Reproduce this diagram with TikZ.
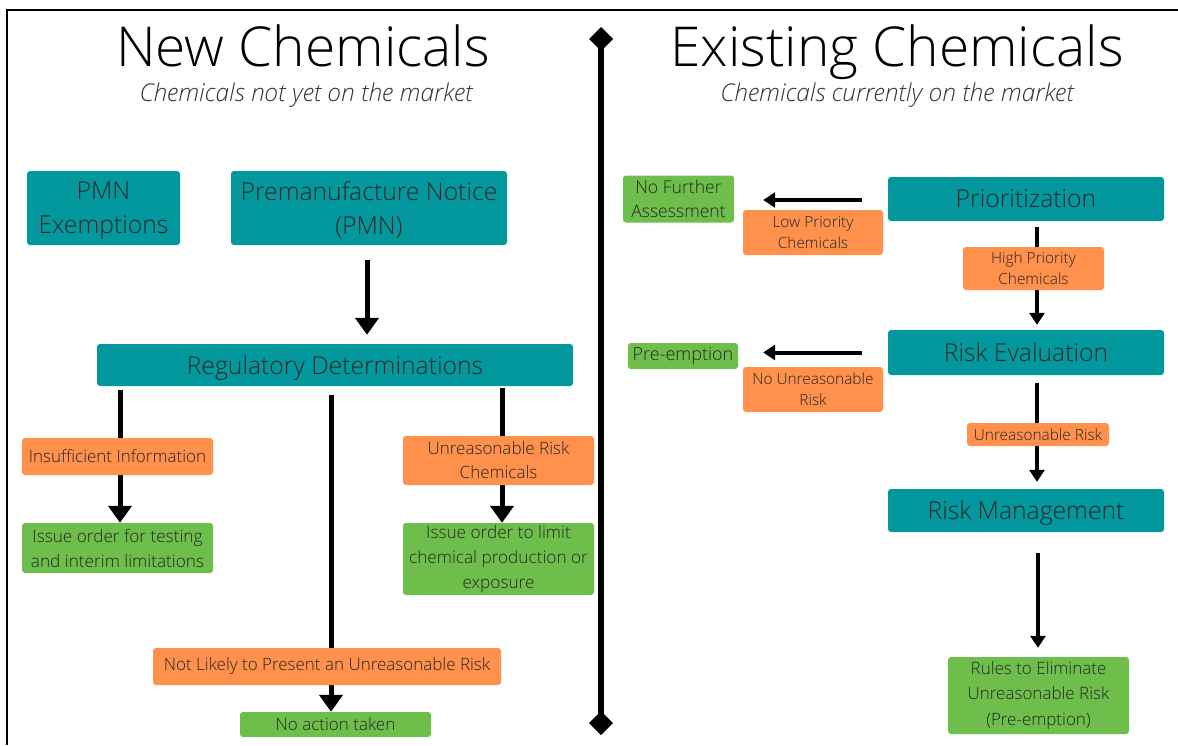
\documentclass[tikz,border=0pt]{standalone}
\usepackage{fontspec}
\setmainfont{Open Sans Light}[ItalicFont={Open Sans Light Italic}]
\usetikzlibrary{arrows.meta,calc}
\definecolor{tealbox}{HTML}{03989E}
\definecolor{orangebox}{HTML}{FF914D}
\definecolor{greenbox}{HTML}{6DBE4B}
\newcommand\myfs[2]{\fontsize{#1}{#2}\selectfont}
\pgfdeclarelayer{bg}
\pgfsetlayers{bg,main}
\tikzset{
  box/.style={rounded corners=3pt, inner sep=0pt, align=center, text=black!85},
  sz/.style 2 args={minimum width=#1pt, minimum height=#2pt},
  tealnode/.style={box, fill=tealbox, font=\myfs{24.7}{34}, text depth=0pt},
  orangenode/.style={box, fill=orangebox},
  greennode/.style={box, fill=greenbox},
  bigarr/.style={line width=5pt, -{Triangle[width=23pt,length=17pt]}},
  smarr/.style={line width=4pt, -{Triangle[width=15pt,length=12pt]}},
}
\begin{document}
\begin{tikzpicture}[x=1pt,y=-1pt]
\useasboundingbox (0,0) rectangle (1178,745);
% frame
\draw[line width=2pt] (1178,10) -- (7,10) -- (7,745);
% divider
\draw[line width=6pt, {Diamond[width=24pt,length=24pt]}-{Diamond[width=24pt,length=24pt]}] (601,27) -- (601,735);
% titles
\node[anchor=base, font=\myfs{55}{62}] (tnew) at (303,66) {New Chemicals};
\node[anchor=base, font=\myfs{24.5}{28}\itshape, text=black!80] (snew) at (306,101) {Chemicals not yet on the market};
\node[anchor=base, font=\myfs{55}{62}] (texist) at (897,66) {Existing Chemicals};
\node[anchor=base, font=\myfs{24.5}{28}\itshape, text=black!80] (sexist) at (897,101) {Chemicals currently on the market};

% left side nodes
\node[tealnode, sz={153}{74}] (pmnex) at (103.5,208) {PMN\\Exemptions};
\node[tealnode, sz={276}{74}] (pmn) at (369,208) {Premanufacture Notice\\(PMN)};
\node[tealnode, sz={476}{42}] (reg) at (335,365) {Regulatory Determinations};
\node[orangenode, sz={191}{37}, font=\myfs{17}{24}] (insuf) at (117.5,456.5) {Insufficient Information};
\node[greennode, sz={191}{50}, font=\myfs{17.2}{25}] (testing) at (117.5,548) {Issue order for testing\\and interim limitations};
\node[orangenode, sz={191}{49}, font=\myfs{17}{24}] (urc) at (498.5,460.5) {Unreasonable Risk\\Chemicals};
\node[greennode, sz={191}{72}, font=\myfs{17.2}{25}] (limit) at (498.5,559) {Issue order to limit\\chemical production or\\exposure};
\node[orangenode, sz={348}{37}, font=\myfs{17}{24}] (notlikely) at (327,666.5) {Not Likely to Present an Unreasonable Risk};
\node[greennode, sz={191}{25}, font=\myfs{17}{24}] (noaction) at (335.5,724.5) {No action taken};

% right side nodes
\node[greennode, sz={111}{47}, font=\myfs{17.6}{24}] (nofurther) at (678.5,199) {No Further\\Assessment};
\node[orangenode, sz={140}{45}, font=\myfs{15.4}{21}] (lowp) at (813,232.5) {Low Priority\\Chemicals};
\node[tealnode, sz={276}{44}] (prio) at (1026,199) {Prioritization};
\node[orangenode, sz={141}{43}, font=\myfs{15.4}{21}] (highp) at (1033.5,268.5) {High Priority\\Chemicals};
\node[tealnode, sz={276}{45}] (riskev) at (1026,352.5) {Risk Evaluation};
\node[greennode, sz={110}{26}, font=\myfs{18}{24}] (preempt) at (683,356) {Pre-emption};
\node[orangenode, sz={140}{45}, font=\myfs{15.4}{21}] (nounreas) at (813,389.5) {No Unreasonable\\Risk};
\node[orangenode, sz={142}{23}, font=\myfs{15.4}{20}] (unreas) at (1038,434.5) {Unreasonable Risk};
\node[tealnode, sz={276}{43}] (riskman) at (1026,510.5) {Risk Management};
\node[greennode, sz={181}{77}, font=\myfs{17}{25.5}] (rules) at (1038.5,695.5) {Rules to Eliminate\\Unreasonable Risk\\(Pre-emption)};

% connectors (behind the label boxes)
\begin{pgfonlayer}{bg}
\draw[bigarr, shorten <=15pt, shorten >=9pt] ([xshift=-2pt]pmn.south) -- ([xshift=-2pt]pmn.south |- reg.north);
\draw[bigarr, shorten <=4pt] ([xshift=2.5pt]testing.north |- reg.south) -- ([xshift=2.5pt]testing.north);
\draw[bigarr, shorten <=9pt] ([xshift=-4.5pt]noaction.north |- reg.south) -- ([xshift=-4.5pt]noaction.north);
\draw[bigarr, shorten <=2pt] ([xshift=3.5pt]limit.north |- reg.south) -- ([xshift=3.5pt]limit.north);

\draw[smarr, shorten <=26pt, shorten >=29pt] ([yshift=-1pt]prio.west) -- ([yshift=-1pt]prio.west -| nofurther.east);
\draw[smarr, shorten <=26pt, shorten >=25pt] (riskev.west) -- (riskev.west -| preempt.east);
\draw[smarr, shorten <=6pt, shorten >=5pt] ([xshift=11pt]prio.south) -- ([xshift=11pt]prio.south |- riskev.north);
\draw[smarr, shorten <=8pt, shorten >=7pt] ([xshift=11pt]riskev.south) -- ([xshift=11pt]riskev.south |- riskman.north);
\draw[smarr, line width=3.5pt, shorten <=21pt, shorten >=9pt] ([xshift=12pt]riskman.south) -- ([xshift=12pt]riskman.south |- rules.north);
\end{pgfonlayer}
\end{tikzpicture}
\end{document}
